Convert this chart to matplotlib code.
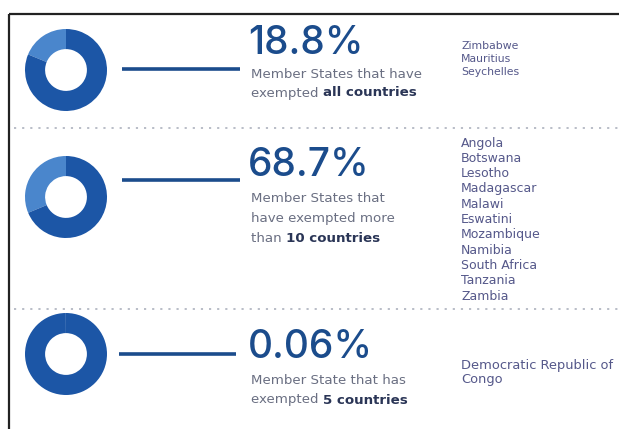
import matplotlib
matplotlib.use("Agg")
import matplotlib.pyplot as plt
from matplotlib.font_manager import FontProperties

plt.rcParams['font.family'] = ['DejaVu Sans']

# Share of Member States per exemption group
pct_values = [18.8, 68.7, 0.06]
pct_labels = ["18.8%", "68.7%", "0.06%"]
# which ring segment carries the stated share (True = dark segment)
dark_is_share = [False, True, False]

desc_plain = [["Member States that have", "exempted "],
              ["Member States that", "have exempted more", "than "],
              ["Member State that has", "exempted "]]
desc_bold = ["all countries", "10 countries", "5 countries"]

countries = [
    ["Zimbabwe", "Mauritius", "Seychelles"],
    ["Angola", "Botswana", "Lesotho", "Madagascar", "Malawi", "Eswatini",
     "Mozambique", "Namibia", "South Africa", "Tanzania", "Zambia"],
    ["Democratic Republic of", "Congo"],
]

W, H = 619, 429
DARK = "#1c56a6"
LIGHT = "#4a86cc"
NAVY = "#1b4c8c"
GREY = "#6a6f82"
LIST = "#55588a"

num_font = FontProperties(family="Inter", weight="medium", size=28)

fig = plt.figure(figsize=(W / 100, H / 100), dpi=100)
fig.patch.set_facecolor("white")
ax = fig.add_axes([0, 0, 1, 1])
ax.set_xlim(0, W)
ax.set_ylim(H, 0)
ax.axis("off")

# frame on top and left
ax.plot([9, W], [14, 14], color="#222222", lw=1.6, solid_capstyle="butt")
ax.plot([9, 9], [14, H], color="#222222", lw=1.6, solid_capstyle="butt")

# dotted separators between groups
for ys in (128, 309):
    ax.plot([14, W], [ys, ys], color="#b3b8c3", lw=1.3,
            linestyle=(0, (1.2, 3.3)))

ring_cy = [70, 197, 354]
line_y = [69, 180, 354]
line_x = [(122, 240), (122, 240), (119, 236)]
num_y = [43, 166, 348]
desc_y0 = [74, 199, 381]
desc_gap = [19, 19.5, 19]
desc_size = 9.6
list_y0 = [46, 143, 366]
list_gap = [12.8, 15.3, 14]
list_size = [7.8, 9.0, 9.4]

R = 41
for i, v in enumerate(pct_values):
    cy = ring_cy[i]
    dax = fig.add_axes([(66 - R) / W, (H - cy - R) / H, 2 * R / W, 2 * R / H])
    light = 100 - v if dark_is_share[i] else v
    dax.pie([light, 100 - light], colors=[LIGHT, DARK], startangle=90,
            counterclock=True, radius=1.0,
            wedgeprops=dict(width=0.49, linewidth=0))
    dax.set_xlim(-1, 1)
    dax.set_ylim(-1, 1)
    dax.set_aspect("equal")
    dax.axis("off")

    x0, x1 = line_x[i]
    ax.plot([x0, x1], [line_y[i], line_y[i]], color=NAVY, lw=2.6,
            solid_capstyle="butt")

    ax.text(248, num_y[i], pct_labels[i], color=NAVY,
            fontproperties=num_font, va="center", ha="left")

    lines = desc_plain[i]
    for k, s in enumerate(lines):
        y = desc_y0[i] + k * desc_gap[i]
        t = ax.text(251, y, s, color=GREY, fontsize=desc_size,
                    va="center", ha="left")
    ax.annotate(desc_bold[i], xy=(1, 0), xycoords=t, va="bottom",
                ha="left", color="#2a3556", fontsize=desc_size,
                fontweight="bold")

    for k, c in enumerate(countries[i]):
        ax.text(461, list_y0[i] + k * list_gap[i], c, color=LIST,
                fontsize=list_size[i], va="center", ha="left")

fig.savefig("out.png", dpi=100, facecolor="white")
